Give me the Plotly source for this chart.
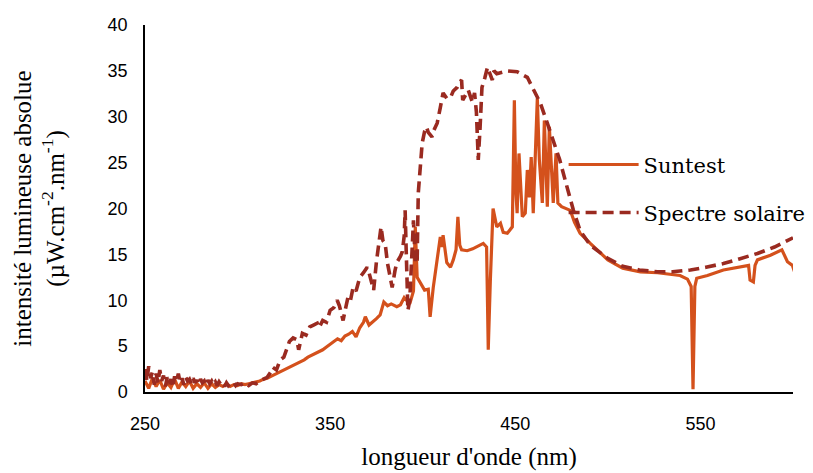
import plotly.graph_objects as go

# --- Data ---
wl_suntest = [250, 252, 254, 256, 258, 260, 262, 264, 266, 268, 270, 272, 274, 276, 278, 280,
              282, 284, 286, 288, 290, 292, 294, 296, 298, 300, 302, 304, 306, 308, 310, 312,
              314, 316, 318, 320, 322, 324, 326, 328, 330, 332, 334, 336, 338, 340, 342, 344,
              346, 348, 350, 352, 354, 356, 358, 360, 362, 364, 366, 368, 369, 371, 373, 375,
              377, 379, 381, 383, 386, 388, 390, 392, 393, 395, 396, 397, 398.6, 401, 403, 404,
              405.7, 407.8, 409.5, 410.5, 411, 413, 415, 416.5, 418, 419, 420, 421, 424, 427,
              429, 432.7, 434.5, 435.4, 436.5, 438, 440, 442, 443.5, 445.7, 448.4, 449.5, 450.3,
              451, 452, 453.8, 455.4, 456.5, 457.6, 458.6, 459.7, 461.9, 463, 464.6, 465.7,
              467.3, 468.4, 470.5, 472, 473, 475, 479.7, 482, 485, 490.5, 496, 500, 508, 517.6,
              526.8, 539, 543, 545, 546, 547, 548, 553.8, 562.4, 571.6, 576, 576.8, 578.6, 579.5,
              580.8, 587.8, 594, 597, 599.7, 601]
suntest = [1.2, 0.4, 1.5, 0.6, 1.3, 0.3, 1.0, 0.5, 1.4, 0.4, 1.1, 0.6, 1.2, 0.4, 0.9, 0.5,
           1.0, 0.4, 0.9, 0.5, 0.8, 0.6, 0.9, 0.6, 0.8, 0.7, 0.9, 0.8, 0.9, 1.0, 1.1, 1.2,
           1.4, 1.5, 1.7, 1.9, 2.1, 2.3, 2.5, 2.7, 2.9, 3.1, 3.3, 3.5, 3.8, 4.0, 4.2, 4.4,
           4.6, 4.9, 5.2, 5.5, 5.8, 5.6, 6.1, 6.3, 6.6, 6.0, 7.0, 7.6, 8.2, 7.3, 7.6, 8.0,
           8.4, 9.8, 9.4, 9.6, 9.3, 9.5, 10.3, 9.8, 9.6, 11.0, 18.0, 12.5, 12.0, 11.1, 11.2, 8.2,
           11.4, 14.7, 16.9, 15.8, 17.1, 14.1, 13.6, 14.4, 15.5, 19.1, 16.0, 15.5, 15.4, 15.6,
           15.8, 16.2, 15.8, 4.6, 12.0, 20.0, 18.0, 18.4, 17.4, 17.3, 18.0, 31.8, 22.0,
           19.5, 26.0, 19.1, 19.5, 24.2, 21.2, 25.6, 19.5, 32.0, 25.3, 20.6, 29.6,
           20.2, 28.9, 20.6, 26.0, 20.6, 20.2, 19.8, 18.5, 17.3, 16.2, 15.1, 14.4, 13.5, 13.1,
           13.0, 12.7, 12.3, 11.5, 0.3, 11.5, 12.4, 12.7, 13.3, 13.6, 13.8, 12.2, 12.0, 13.8,
           14.4, 14.9, 15.5, 14.2, 13.8, 13.0]

wl_solaire = [250, 251, 252, 253, 254, 255, 256, 257, 258, 259, 260, 261, 262, 263, 264, 265,
              266, 267, 268, 269, 270, 271, 272, 273, 274, 275, 276, 277, 278, 279, 280, 281,
              282, 283, 284, 285, 286, 287, 288, 289, 290, 291, 292, 293, 294, 295, 296, 297,
              298, 299, 300, 302, 304, 306, 308, 310, 312, 314, 316, 318, 319, 321, 323, 325,
              326.8, 328, 330, 332, 333, 335, 337, 339, 341, 343, 344, 346, 348, 350, 352, 353.8,
              355, 356, 357, 358, 359.7, 361, 362.4, 364, 366, 368, 370, 371, 372.7, 373.5, 375,
              376, 377, 377.5, 378.5, 379.7, 381, 382, 383.5, 385, 386, 388, 389, 390, 390.5,
              391, 392, 393, 394, 395, 396, 397, 397.6, 398.6, 399.7, 401, 402, 403, 405, 406,
              407.8, 409.5, 411, 413, 415, 416.5, 418.6, 420, 421, 421.6, 423, 424.6, 426.8,
              428, 429, 430, 431, 432, 433.5, 435, 436.5, 437.6, 438.5, 440, 445.7, 451, 456.5,
              459.7, 463.5, 467.3, 470.5, 474, 478, 481.4, 485, 490.5, 499.7, 508, 517, 526.8,
              535, 544.6, 553, 562.4, 571, 580.8, 590, 598.6, 600]
solaire = [2.5, 1.2, 2.8, 1.5, 2.2, 0.8, 2.0, 1.0, 2.4, 1.2, 1.8, 0.6, 1.6, 0.9, 1.4, 0.5,
           1.7, 1.1, 2.0, 1.0, 1.5, 0.8, 1.6, 1.2, 1.4, 0.9, 1.5, 1.0, 1.3, 0.8, 1.4, 1.0,
           1.2, 0.7, 1.3, 0.9, 1.2, 0.8, 1.1, 0.7, 1.1, 0.8, 1.0, 0.6, 1.0, 0.7, 0.9, 0.8,
           1.0, 0.7, 0.9, 0.8, 1.0, 0.7, 1.0, 0.9, 1.2, 1.4, 1.6, 2.2, 2.7, 2.4, 3.5, 3.8,
           4.9, 5.5, 5.9, 5.7, 4.6, 6.4, 6.2, 7.1, 7.3, 7.5, 7.0, 7.8, 7.6, 8.9, 9.2, 10.0,
           9.4, 8.5, 7.8, 8.8, 10.4, 10.0, 11.4, 11.0, 12.5, 13.0, 13.6, 13.0, 11.9, 11.1, 14.2,
           15.5, 17.3, 18.0, 16.5, 16.2, 14.0, 13.0, 11.4, 13.2, 14.1, 14.8, 15.3, 17.0, 19.8,
           16.0, 8.9, 10.0, 15.0, 18.7, 14.0, 14.4, 21.7, 24.2, 27.1, 28.4, 28.9, 28.3, 27.8, 28.5,
           29.3, 31.0, 32.6, 32.0, 32.1, 32.8, 33.2, 33.8, 34.0, 31.8, 32.3, 32.9, 31.6,
           32.6, 30.5, 25.3, 28.9, 33.2, 34.2, 35.4, 34.6, 34.0, 35.0, 34.7, 35.0, 34.9, 34.3,
           33.1, 31.5, 29.3, 27.5, 25.3, 22.3, 19.8, 17.6, 16.0, 14.6, 13.7, 13.3, 13.1,
           13.1, 13.3, 13.6, 14.0, 14.5, 15.1, 15.8, 16.6, 16.8]

x_ticks = [250, 350, 450, 550]
y_ticks = [0, 5, 10, 15, 20, 25, 30, 35, 40]

c_suntest = "#D4511C"
c_solaire = "#9A2A20"
serif = "Liberation Serif"
sans = "Liberation Sans"

fig = go.Figure()
fig.add_trace(go.Scatter(x=wl_suntest, y=suntest, mode="lines", name="Suntest",
                         line=dict(color=c_suntest, width=3.2), legend="legend"))
fig.add_trace(go.Scatter(x=wl_solaire, y=solaire, mode="lines", name="Spectre solaire",
                         line=dict(color=c_solaire, width=3.6, dash="11px,6px"), legend="legend2"))

leg_common = dict(font=dict(family="DejaVu Serif", size=21, color="#000"),
                  bgcolor="rgba(0,0,0,0)", itemwidth=70, xanchor="left", yanchor="middle",
                  borderwidth=0)
fig.update_layout(
    width=813, height=473,
    margin=dict(l=137, r=28, t=17, b=89, autoexpand=False),
    plot_bgcolor="white", paper_bgcolor="white",
    showlegend=True,
    legend=dict(x=0.646, y=0.619, **leg_common),
    legend2=dict(x=0.646, y=0.488, **leg_common),
    xaxis=dict(range=[250, 600], tickvals=x_ticks, ticktext=[str(v) for v in x_ticks],
               showgrid=False, zeroline=False, showline=True, linecolor="black", linewidth=1.5,
               ticks="", ticklabelstandoff=15,
               tickfont=dict(family=sans, size=18, color="#000"),
               title=dict(text="longueur d'onde (nm)", font=dict(family=serif, size=25, color="#000"),
                          standoff=14)),
    yaxis=dict(range=[0, 40], tickvals=y_ticks, showgrid=False, zeroline=False, showline=True,
               linecolor="black", linewidth=1.5, ticks="", ticklabelstandoff=12,
               tickfont=dict(family=sans, size=18, color="#000"),
               title=dict(text="intensité lumineuse absolue<br>(µW.cm<sup>-2</sup>.nm<sup>-1</sup>)",
                          font=dict(family=serif, size=25, color="#000"), standoff=36)),
)

fig.write_html("out.html")
